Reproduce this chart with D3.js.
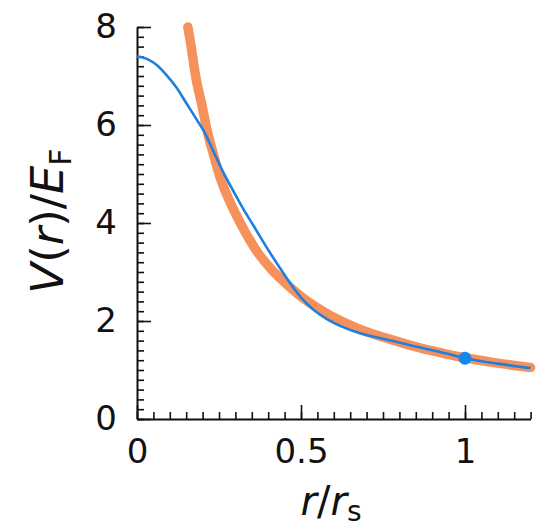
<!DOCTYPE html>
<html>
<head>
<meta charset="utf-8">
<script src="https://cdn.jsdelivr.net/npm/d3@7"></script>
<style>
  body { margin: 0; background: #fff; }
  svg { display: block; font-family: "DejaVu Sans", sans-serif; }
</style>
</head>
<body>
<svg id="chart"></svg>
<script>
// values
var fitX = [0.155, 0.162, 0.18, 0.198, 0.215, 0.229, 0.253, 0.28, 0.323, 0.37, 0.41, 0.445, 0.5, 0.579, 0.68, 0.78, 0.863, 0.94, 1.0, 1.1, 1.2];
var fitY = [8.0, 7.73, 6.95, 6.4, 5.85, 5.5, 4.94, 4.48, 3.9, 3.38, 3.05, 2.82, 2.5, 2.15, 1.83, 1.61, 1.45, 1.33, 1.25, 1.14, 1.05];

var potX = [0, 0.03, 0.061, 0.09, 0.122, 0.15, 0.183, 0.207, 0.229, 0.262, 0.293, 0.323, 0.354, 0.39, 0.43, 0.466, 0.5, 0.54, 0.579, 0.63, 0.68, 0.73, 0.78, 0.863, 0.94, 1.0, 1.1, 1.2];
var potY = [7.4, 7.35, 7.22, 7.02, 6.75, 6.45, 6.1, 5.84, 5.52, 5.05, 4.66, 4.3, 3.96, 3.56, 3.14, 2.78, 2.48, 2.22, 2.04, 1.87, 1.75, 1.67, 1.59, 1.46, 1.34, 1.24, 1.13, 1.04];

var markX = [1.0];
var markY = [1.24];

var xMajor = [0, 0.5, 1];
var xTickLabels = ["0", "0.5", "1"];
var yMajor = [0, 2, 4, 6, 8];
var yTickLabels = ["0", "2", "4", "6", "8"];

var width = 542, height = 531;
var plotLeft = 137, plotRight = 530.6, plotTop = 27, plotBottom = 419;

var svg = d3.select("#chart").attr("width", width).attr("height", height);

var x = d3.scaleLinear().domain([0, 1.2]).range([plotLeft, plotRight]);
var y = d3.scaleLinear().domain([0, 8]).range([plotBottom, plotTop]);

// minor ticks
var xMinor = d3.range(0, 1.2001, 0.05);
var yMinor = d3.range(0, 8.001, 0.2);

svg.append("g")
    .attr("transform", "translate(0," + plotBottom + ")")
    .call(d3.axisBottom(x).tickValues(xMinor).tickSize(-7).tickSizeOuter(0).tickFormat(""))
    .call(function(g){ g.select(".domain").remove(); });
svg.append("g")
    .attr("transform", "translate(" + plotLeft + ",0)")
    .call(d3.axisLeft(y).tickValues(yMinor).tickSize(-7).tickSizeOuter(0).tickFormat(""))
    .call(function(g){ g.select(".domain").remove(); });

svg.append("g")
    .attr("transform", "translate(0," + plotBottom + ")")
    .call(d3.axisBottom(x).tickValues(xMajor).tickSize(-14).tickSizeOuter(0).tickPadding(20)
        .tickFormat(function(d, i){ return xTickLabels[i]; }));
svg.append("g")
    .attr("transform", "translate(" + plotLeft + ",0)")
    .call(d3.axisLeft(y).tickValues(yMajor).tickSize(-14).tickSizeOuter(0).tickPadding(20)
        .tickFormat(function(d, i){ return yTickLabels[i]; }));

svg.selectAll(".tick line").attr("stroke", "#111").attr("stroke-width", 1.6);
svg.selectAll(".domain").attr("stroke", "#111").attr("stroke-width", 2);
svg.selectAll(".tick text").attr("font-size", 34).attr("font-family", "DejaVu Sans").attr("fill", "#111");

var line = d3.line()
    .x(function(d){ return x(d[0]); })
    .y(function(d){ return y(d[1]); })
    .curve(d3.curveMonotoneX);

svg.append("path")
    .datum(d3.zip(fitX, fitY))
    .attr("d", line)
    .attr("fill", "none")
    .attr("stroke", "#f6915c")
    .attr("stroke-width", 9.5)
    .attr("stroke-linecap", "round");

svg.append("path")
    .datum(d3.zip(potX, potY))
    .attr("d", line)
    .attr("fill", "none")
    .attr("stroke", "#1c80e0")
    .attr("stroke-width", 2.6);

svg.selectAll(".mark")
    .data(d3.zip(markX, markY))
    .enter().append("circle")
    .attr("class", "mark")
    .attr("cx", function(d){ return x(d[0]); })
    .attr("cy", function(d){ return y(d[1]); })
    .attr("r", 6.5)
    .attr("fill", "#1188f0");

// axis labels
var ylab = svg.append("text")
    .attr("transform", "translate(63,221) rotate(-90)")
    .attr("text-anchor", "middle")
    .attr("font-size", 45)
    .attr("fill", "#111");
ylab.append("tspan").attr("font-style", "italic").text("V");
ylab.append("tspan").text("(");
ylab.append("tspan").attr("font-style", "italic").text("r");
ylab.append("tspan").text(")/");
ylab.append("tspan").attr("font-style", "italic").text("E");
ylab.append("tspan").attr("font-size", 30).attr("dy", 8).text("F");

var xlab = svg.append("text")
    .attr("x", 331)
    .attr("y", 515)
    .attr("text-anchor", "middle")
    .attr("font-size", 40)
    .attr("fill", "#111");
xlab.append("tspan").attr("font-style", "italic").text("r");
xlab.append("tspan").text("/");
xlab.append("tspan").attr("font-style", "italic").text("r");
xlab.append("tspan").attr("font-size", 28).attr("dy", 6).text("s");
</script>
</body>
</html>
